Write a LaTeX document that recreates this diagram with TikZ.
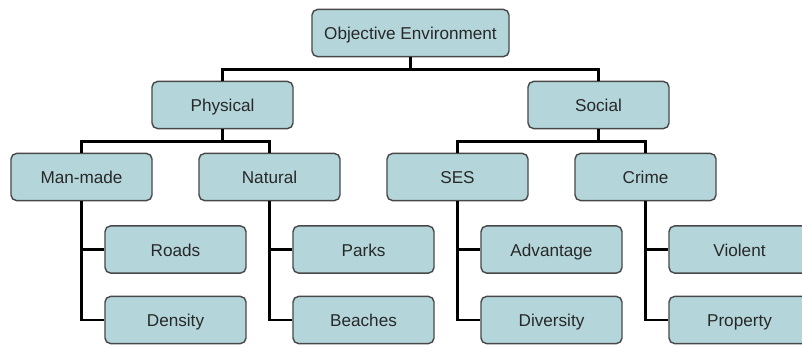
\documentclass[tikz,border=0pt]{standalone}
\usepackage{fontspec}
\setmainfont{Liberation Sans}
\definecolor{boxfill}{RGB}{180,214,218}
\definecolor{boxline}{RGB}{72,72,72}
\definecolor{boxtext}{RGB}{40,40,40}
\tikzset{
  box/.style  = {rectangle, rounded corners=4pt, draw=boxline, line width=1pt, fill=boxfill, text=boxtext, minimum width=3.525cm, minimum height=1.18cm, text height=1.9ex, text depth=0.15ex, font=\fontsize{12.2}{14}\selectfont},
  link/.style = {line width=1.7pt, black}
}

\begin{document}
\begin{tikzpicture}[x=0.025cm, y=-0.025cm]
  \clip (0,0) rectangle (802,344);
  \node[box, minimum width=4.925cm] (obj) at (410.5,33) {Objective Environment};
  \node[box] (phys) at (222.5,105) {Physical};
  \node[box] (soc)  at (598.5,105) {Social};
  \node[box] (man)  at ( 81.5,177) {Man-made};
  \node[box] (nat)  at (269.5,177) {Natural};
  \node[box] (ses)  at (457.5,177) {SES};
  \node[box] (crim) at (645.5,177) {Crime};
  \node[box] (road) at (175.5,249.5) {Roads};     \node[box] (dens) at (175.5,320) {Density};
  \node[box] (park) at (363.5,249.5) {Parks};     \node[box] (beac) at (363.5,320) {Beaches};
  \node[box] (adv)  at (551.5,249.5) {Advantage}; \node[box] (div)  at (551.5,320) {Diversity};
  \node[box] (viol) at (739.5,249.5) {Violent};   \node[box] (prop) at (739.5,320) {Property};

  \draw[link] (obj.south)  -- ++(0,12) -| (phys.north);
  \draw[link] (obj.south)  -- ++(0,12) -| (soc.north);
  \draw[link] (phys.south) -- ++(0,12) -| (man.north);
  \draw[link] (phys.south) -- ++(0,12) -| (nat.north);
  \draw[link] (soc.south)  -- ++(0,12) -| (ses.north);
  \draw[link] (soc.south)  -- ++(0,12) -| (crim.north);
  \draw[link] (man.south)  |- (road.west); \draw[link] (man.south)  |- (dens.west);
  \draw[link] (nat.south)  |- (park.west); \draw[link] (nat.south)  |- (beac.west);
  \draw[link] (ses.south)  |- (adv.west);  \draw[link] (ses.south)  |- (div.west);
  \draw[link] (crim.south) |- (viol.west); \draw[link] (crim.south) |- (prop.west);
\end{tikzpicture}
\end{document}
